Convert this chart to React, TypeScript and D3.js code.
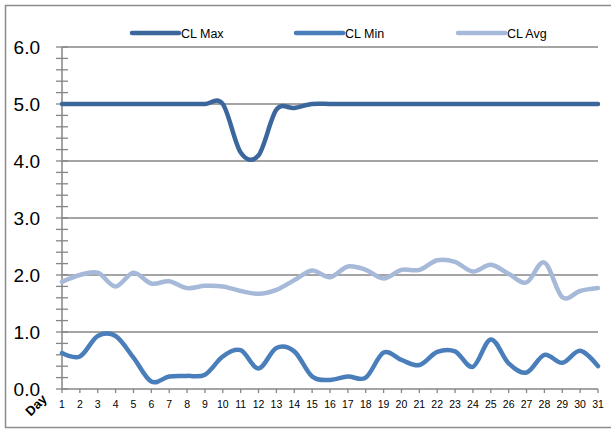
import React from "react";
import * as d3 from "d3";

const days = d3.range(1, 32);
const clMax = [5.0, 5.0, 5.0, 5.0, 5.0, 5.0, 5.0, 5.0, 5.0, 5.0, 4.15, 4.1, 4.9, 4.93, 5.0, 5.0, 5.0, 5.0, 5.0, 5.0, 5.0, 5.0, 5.0, 5.0, 5.0, 5.0, 5.0, 5.0, 5.0, 5.0, 5.0];
const clMin = [0.63, 0.57, 0.93, 0.93, 0.55, 0.13, 0.22, 0.23, 0.25, 0.57, 0.68, 0.36, 0.72, 0.66, 0.22, 0.16, 0.22, 0.2, 0.64, 0.51, 0.42, 0.65, 0.66, 0.39, 0.87, 0.45, 0.29, 0.6, 0.46, 0.67, 0.4];
const clAvg = [1.88, 2.0, 2.04, 1.8, 2.04, 1.85, 1.89, 1.77, 1.81, 1.8, 1.72, 1.67, 1.74, 1.91, 2.08, 1.96, 2.15, 2.09, 1.94, 2.09, 2.09, 2.26, 2.23, 2.06, 2.18, 2.02, 1.87, 2.22, 1.61, 1.72, 1.77];
const seriesNames = ["CL Max", "CL Min", "CL Avg"];
const seriesColors = ["#3C679C", "#4A7EBB", "#A6B9D9"];
const yTicks = [0, 1, 2, 3, 4, 5, 6];
const xTitle = "Day";

const W = 611;
const H = 429;
const FONT = "'Liberation Sans', Arial, sans-serif";

export default function App() {
  const x = d3.scaleLinear().domain([1, 31]).range([62, 598]);
  const y = d3.scaleLinear().domain([0, 6]).range([389, 47]);
  const line = d3
    .line<number>()
    .x((_, i) => x(days[i]))
    .y((v) => y(v))
    .curve(d3.curveCardinal.tension(0));
  const series = [clMax, clMin, clAvg];
  const minorTicks = d3.range(0, 6.0001, 0.2);
  const legendX = [132, 296, 458];
  const gridColor = "#868686";

  return (
    <div style={{ position: "absolute", left: 0, top: 0 }}>
      <svg width={W} height={H} style={{ display: "block", background: "#fff" }}>
        <rect x={5.5} y={5.5} width={620} height={422} fill="#fff" stroke="#8c8c8c" strokeWidth={1.5} />
        {yTicks.map((t) => (
          <line key={"g" + t} x1={x(1)} x2={x(31)} y1={y(t)} y2={y(t)} stroke={gridColor} strokeWidth={1.5} />
        ))}
        <line x1={x(1)} x2={x(1)} y1={y(0)} y2={y(6)} stroke={gridColor} strokeWidth={1.5} />
        {minorTicks.map((t, i) => (
          <line key={"mt" + i} x1={56} x2={68} y1={y(t)} y2={y(t)} stroke={gridColor} strokeWidth={1.3} />
        ))}
        {yTicks.map((t) => (
          <text key={"yl" + t} x={40} y={y(t)} dy="0.36em" textAnchor="end" fontFamily={FONT} fontSize={19} fill="#000">
            {d3.format(".1f")(t)}
          </text>
        ))}
        {days.map((d) => (
          <line key={"xt" + d} x1={x(d)} x2={x(d)} y1={y(0)} y2={y(0) + 4} stroke={gridColor} strokeWidth={1.3} />
        ))}
        {days.map((d) => (
          <text key={"xl" + d} x={x(d)} y={404} dy="0.36em" textAnchor="middle" fontFamily={FONT} fontSize={10.5} fill="#000">
            {d}
          </text>
        ))}
        <text
          x={36}
          y={405}
          textAnchor="middle"
          dy="0.36em"
          transform="rotate(-45 36 405)"
          fontFamily={FONT}
          fontSize={13}
          fontWeight="bold"
          fill="#000"
        >
          {xTitle}
        </text>
        {series.map((s, i) => (
          <path
            key={"s" + i}
            d={line(s) || ""}
            fill="none"
            stroke={seriesColors[i]}
            strokeWidth={4.5}
            strokeLinejoin="round"
            strokeLinecap="round"
          />
        ))}
        {seriesNames.map((n, i) => (
          <g key={"lg" + i}>
            <line x1={legendX[i]} x2={legendX[i] + 47} y1={33} y2={33} stroke={seriesColors[i]} strokeWidth={4.5} strokeLinecap="round" />
            <text x={legendX[i] + 49} y={33} dy="0.36em" fontFamily={FONT} fontSize={12.5} fill="#000">
              {n}
            </text>
          </g>
        ))}
      </svg>
    </div>
  );
}
